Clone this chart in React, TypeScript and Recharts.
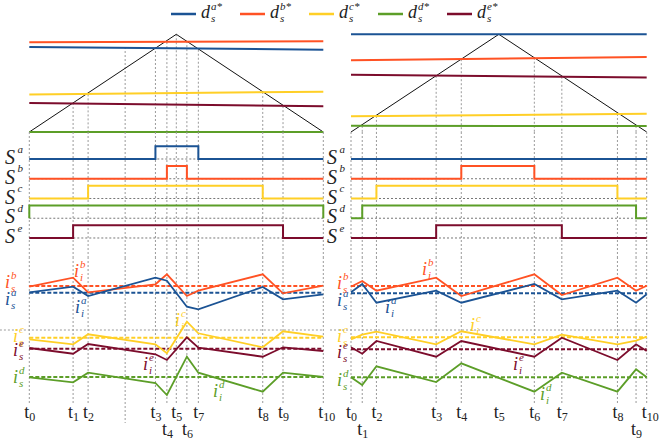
import React from "react";
import { ComposedChart, Line, ReferenceLine, XAxis, YAxis } from "recharts";

const BLUE = "#1b5394";
const ORANGE = "#ff5224";
const YELLOW = "#ffcf26";
const GREEN = "#5c9e28";
const MAROON = "#7c0c2c";
const DOT = "#9a9a9a";
const SERIF = "Liberation Serif, Times New Roman, DejaVu Serif, serif";

const PHASES = ["a", "b", "c", "d", "e"];
const COLORS: Record<string, string> = { a: BLUE, b: ORANGE, c: YELLOW, d: GREEN, e: MAROON };

// instants t0..t10, fraction of the carrier period
const T_LEFT = [0, 0.149, 0.2, 0.429, 0.468, 0.5, 0.536, 0.575, 0.794, 0.863, 1];
const T_RIGHT = [0, 0.038, 0.086, 0.288, 0.373, 0.5, 0.62, 0.713, 0.901, 0.964, 1];
// extra unlabelled instant in the left period
const T_EXTRA = 0.326;

// duty references d_s* at start / end of period
const DUTY_LEFT: Record<string, number[]> = {
  a: [0.87, 0.842], b: [0.918, 0.929], c: [0.385, 0.412], d: [0, 0], e: [0.297, 0.263],
};
const DUTY_RIGHT: Record<string, number[]> = {
  a: [1, 1], b: [0.734, 0.768], c: [0.16, 0.187], d: [0.064, 0.061], e: [0.586, 0.559],
};

// where each dotted instant line starts (carrier crossing level)
const TOP_LEFT = [0, 0.297, 0.385, 0.87, 0.92, 1, 0.93, 0.842, 0.41, 0.265, 0];
const TOP_RIGHT = [0, 0.063, 0.165, 0.575, 0.745, null, 0.76, 0.565, 0.185, 0.062, 0];

// switching edges: index of rising / falling instant
const EDGES_LEFT: Record<string, number[] | null> = { a: [3, 7], b: [4, 6], c: [2, 8], d: [0, 10], e: [1, 9] };
const EDGES_RIGHT: Record<string, number[] | null> = { a: null, b: [4, 6], c: [2, 8], d: [1, 9], e: [3, 7] };

// currents sampled at t0,t1,t2,t3,t4,t6,t7,t8,t9,t10
const CUR_IDX = [0, 1, 2, 3, 4, 6, 7, 8, 9, 10];
const IREF_LEFT: Record<string, number> = { a: 11.03, b: 11.7, c: 6.53, d: 2.6, e: 5.43 };
const IREF_RIGHT: Record<string, number> = { a: 10.97, b: 11.7, c: 6.57, d: 2.57, e: 5.37 };
const CUR_LEFT: Record<string, number[]> = {
  b: [11.63, 12.53, 11.07, 11.87, 12.87, 10.7, 11.23, 12.87, 10.97, 11.73],
  a: [11.07, 11.63, 10.7, 12.53, 12.23, 9.63, 9.37, 11.6, 10.37, 10.87],
  c: [6.37, 5.87, 6.87, 5.87, 4.97, 8.13, 6.97, 5.57, 7.17, 6.63],
  e: [5.5, 4.93, 5.9, 4.87, 4.3, 6.57, 5.53, 4.63, 5.57, 5.2],
  d: [2.57, 2.07, 3.03, 2.0, 0.8, 4.63, 3.03, 1.13, 3.03, 2.6],
};
const CUR_RIGHT: Record<string, number[]> = {
  b: [11.63, 12.2, 11.23, 12.53, 10.7, 12.87, 10.8, 12.53, 11.23, 11.73],
  a: [11.07, 11.9, 10.03, 11.23, 10.03, 11.9, 10.37, 11.23, 10.03, 10.87],
  c: [6.37, 6.83, 7.13, 5.87, 7.17, 5.87, 6.83, 5.87, 6.23, 6.63],
  e: [5.57, 4.93, 6.2, 4.63, 6.2, 4.63, 6.53, 4.3, 5.87, 5.2],
  d: [2.57, 1.8, 3.67, 2.1, 3.97, 1.13, 3.03, 1.13, 3.37, 2.57],
};
const SEPARATOR = 7.3;
const LOWER_LABELS_LEFT = [4, 6];
const LOWER_LABELS_RIGHT = [1, 9];

const CARRIER = [{ t: 0, v: 0 }, { t: 0.5, v: 1 }, { t: 1, v: 0 }];
const ROW_BASE: Record<string, number> = { a: 4, b: 3, c: 2, d: 1, e: 0 };
const PULSE_H = 0.64;

type Panel = {
  left: number; width: number; ml: number; mr: number;
  T: number[]; duty: Record<string, number[]>; tops: (number | null)[];
  edges: Record<string, number[] | null>; iref: Record<string, number>;
  cur: Record<string, number[]>; lower: number[]; extra: boolean; sepFrom: number;
};

const PANELS: Panel[] = [
  { left: 0, width: 342, ml: 29.3, mr: 18.7, T: T_LEFT, duty: DUTY_LEFT, tops: TOP_LEFT,
    edges: EDGES_LEFT, iref: IREF_LEFT, cur: CUR_LEFT, lower: LOWER_LABELS_LEFT, extra: true, sepFrom: -0.1 },
  { left: 330, width: 330, ml: 21, mr: 13.3, T: T_RIGHT, duty: DUTY_RIGHT, tops: TOP_RIGHT,
    edges: EDGES_RIGHT, iref: IREF_RIGHT, cur: CUR_RIGHT, lower: LOWER_LABELS_RIGHT, extra: false, sepFrom: -0.071 },
];

function pulse(T: number[], edge: number[] | null, base: number) {
  if (!edge) return [{ t: 0, v: base }, { t: 1, v: base }];
  const [r, f] = edge;
  const hi = base + PULSE_H;
  return [
    { t: 0, v: base }, { t: T[r], v: base }, { t: T[r], v: hi },
    { t: T[f], v: hi }, { t: T[f], v: base }, { t: 1, v: base },
  ];
}

const axes = (domain: number[]) => [
  <XAxis key="x" type="number" dataKey="t" domain={[0, 1]} hide />,
  <YAxis key="y" type="number" domain={domain} hide />,
];

function TLabel(name: number, lower: boolean) {
  return (props: any) => {
    const vb = props.viewBox || {};
    const x = vb.x - 5;
    const y = vb.y + vb.height + (lower ? 32 : 15);
    return (
      <text x={x} y={y} style={{ fontFamily: SERIF }} fontSize={18} fill="#222">
        t<tspan fontSize={12} dy={3}>{name}</tspan>
      </text>
    );
  };
}

function PanelCharts({ p }: { p: Panel }) {
  const m = { left: p.ml, right: p.mr };
  const lines: number[] = p.extra ? [...p.T, T_EXTRA] : p.T;
  return (
    <>
      {/* carrier and duty references */}
      <div style={{ position: "absolute", left: p.left, top: 0 }}>
        <ComposedChart width={p.width} height={140} margin={{ ...m, top: 34.3, bottom: 8 }}>
          {axes([0, 1])}
          {p.T.map((t, i) =>
            p.tops[i] == null ? null : (
              <ReferenceLine key={"v" + i} segment={[{ x: t, y: p.tops[i] as number }, { x: t, y: 0 }]}
                stroke={DOT} strokeDasharray="2 2" ifOverflow="visible" />
            ))}
          {p.extra && (
            <ReferenceLine segment={[{ x: T_EXTRA, y: DUTY_LEFT.a[0] }, { x: T_EXTRA, y: 0 }]}
              stroke={DOT} strokeDasharray="2 2" ifOverflow="visible" />
          )}
          <Line data={CARRIER} dataKey="v" stroke="#111" strokeWidth={1} dot={false} activeDot={false} isAnimationActive={false} />
          {["d", "c", "e", "a", "b"].map((ph) => (
            <Line key={ph} data={[{ t: 0, v: p.duty[ph][0] }, { t: 1, v: p.duty[ph][1] }]} dataKey="v"
              stroke={COLORS[ph]} strokeWidth={2} dot={false} activeDot={false} isAnimationActive={false} />
          ))}
        </ComposedChart>
      </div>
      {/* switching states */}
      <div style={{ position: "absolute", left: p.left, top: 132 }}>
        <ComposedChart width={p.width} height={126} margin={{ ...m, top: 0, bottom: 0 }}>
          {axes([-1.013, 5.367])}
          {lines.map((t, i) => (
            <ReferenceLine key={"v" + i} x={t} stroke={DOT} strokeDasharray="2 2"
              strokeOpacity={i === 5 && !p.extra ? 0 : 1} />
          ))}
          {PHASES.map((ph) => (
            <ReferenceLine key={"b" + ph} segment={[{ x: 0, y: ROW_BASE[ph] }, { x: 1, y: ROW_BASE[ph] }]}
              stroke="#777" strokeDasharray="2 2" />
          ))}
          {PHASES.map((ph) => (
            <Line key={ph} data={pulse(p.T, p.edges[ph], ROW_BASE[ph])} dataKey="v" stroke={COLORS[ph]}
              strokeWidth={2} dot={false} activeDot={false} isAnimationActive={false} />
          ))}
        </ComposedChart>
      </div>
      {/* currents */}
      <div style={{ position: "absolute", left: p.left, top: 258 }}>
        <ComposedChart width={p.width} height={184} margin={{ ...m, top: 0, bottom: 39 }}>
          {axes([0, 14.5])}
          {p.T.map((t, i) => (
            <ReferenceLine key={"v" + i} x={t} stroke={DOT} strokeDasharray="2 2"
              strokeOpacity={i === 5 && !p.extra ? 0 : 1}
              label={TLabel(i, p.lower.includes(i))} />
          ))}
          {p.extra && (
            <ReferenceLine segment={[{ x: T_EXTRA, y: 14.5 }, { x: T_EXTRA, y: -2 }]}
              stroke={DOT} strokeDasharray="2 2" ifOverflow="visible" />
          )}
          <ReferenceLine segment={[{ x: p.sepFrom, y: SEPARATOR }, { x: 1, y: SEPARATOR }]}
            stroke={DOT} strokeDasharray="2 2" ifOverflow="visible" />
          {["b", "a", "c", "e", "d"].map((ph) => (
            <Line key={"r" + ph} data={[{ t: 0, v: p.iref[ph] }, { t: 1, v: p.iref[ph] }]} dataKey="v"
              stroke={COLORS[ph]} strokeWidth={2} strokeDasharray="4 2" dot={false} activeDot={false}
              isAnimationActive={false} />
          ))}
          {["b", "a", "c", "e", "d"].map((ph) => (
            <Line key={"c" + ph} data={CUR_IDX.map((k, j) => ({ t: p.T[k], v: p.cur[ph][j] }))} dataKey="v"
              stroke={COLORS[ph]} strokeWidth={1.8} dot={false} activeDot={false} isAnimationActive={false} />
          ))}
        </ComposedChart>
      </div>
    </>
  );
}

type SymProps = {
  x: number; y: number; base: string; sup?: string; sub?: string; color: string;
  size?: number; dx?: number; supDy?: number; subDy?: number;
};

// one text element: base letter with stacked superscript and subscript
function Sym({ x, y, base, sup, sub, color, size = 18, dx = 6, supDy = -9, subDy = 4 }: SymProps) {
  return (
    <text x={x} y={y} fontSize={size} fill={color} style={{ fontFamily: SERIF, fontStyle: "italic" }}>
      {base}
      {sup && <tspan x={x + dx} y={y + supDy} fontSize={11}>{sup}</tspan>}
      {sub && <tspan x={x + dx} y={y + subDy} fontSize={11}>{sub}</tspan>}
    </text>
  );
}

const LEGEND_X = [171, 240, 309, 378, 447];
const S_BASELINE = [164, 183.75, 203.5, 223.25, 243];

// current labels: [phase, kind, x, baseline]
const I_LABELS: [string, "s" | "i", number, number][] = [
  ["b", "s", 5, 288], ["a", "s", 5, 305], ["b", "i", 74, 277], ["a", "i", 75, 313],
  ["c", "s", 13, 342], ["e", "s", 13, 356], ["d", "s", 13, 383],
  ["c", "i", 175, 326], ["e", "i", 143, 370], ["d", "i", 213, 397],
  ["b", "s", 337, 289], ["a", "s", 337, 306], ["b", "i", 422, 275], ["a", "i", 385, 313],
  ["c", "s", 337, 342], ["e", "s", 337, 358], ["d", "s", 337, 386],
  ["c", "i", 470, 331], ["e", "i", 513, 370], ["d", "i", 540, 400],
];

export default function App() {
  return (
    <div style={{ position: "absolute", left: 0, top: 0, width: 660, height: 442, background: "#fff", overflow: "hidden" }}>
      {PANELS.map((p, i) => <PanelCharts key={i} p={p} />)}
      <svg width={660} height={442} style={{ position: "absolute", left: 0, top: 0, pointerEvents: "none" }}>
        {PHASES.map((ph, i) => (
          <g key={ph}>
            <line x1={LEGEND_X[i]} x2={LEGEND_X[i] + 25} y1={14} y2={14} stroke={COLORS[ph]} strokeWidth={2.5} />
            <Sym x={LEGEND_X[i] + 30} y={18.3} base="d" sup={ph + "*"} sub="s" color="#222" dx={10} supDy={-8} subDy={3.5} />
          </g>
        ))}
        {[5, 327].map((x) =>
          PHASES.map((ph, i) => (
            <Sym key={x + ph} x={x} y={S_BASELINE[i]} base="S" sup={ph} color="#222" size={20} dx={12.5} supDy={-11.5} />
          )))}
        {I_LABELS.map(([ph, kind, x, y], i) => (
          <Sym key={i} x={x} y={y} base="i" sup={ph} sub={kind} color={COLORS[ph]} />
        ))}
      </svg>
    </div>
  );
}
